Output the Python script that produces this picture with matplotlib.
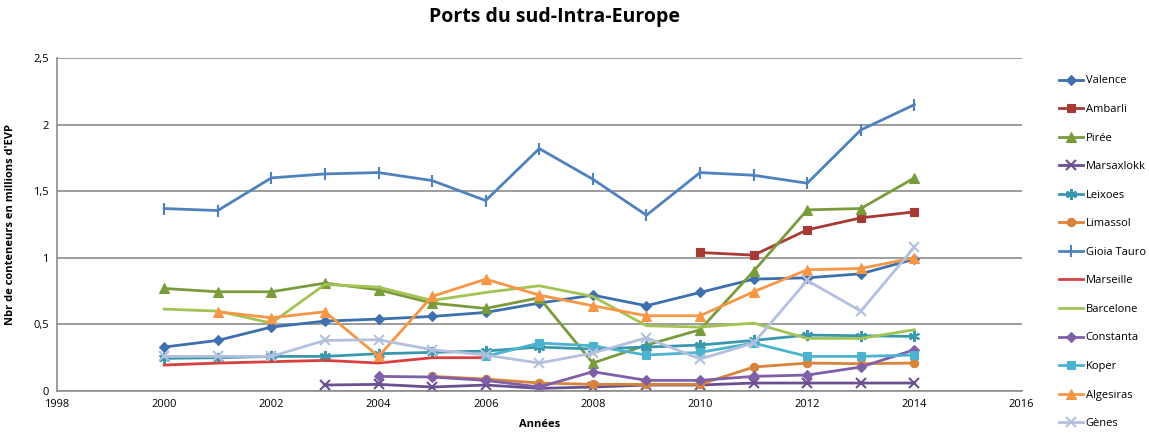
import numpy as np
import matplotlib.pyplot as plt
from matplotlib.ticker import FuncFormatter

# Ports du sud-Intra-Europe : trafic conteneurs (millions d'EVP)

years = list(range(2000, 2015))

valence = [0.33, 0.38, 0.48, 0.525, 0.54, 0.56, 0.59, 0.66, 0.72, 0.64, 0.74, 0.84, 0.85, 0.88, 0.99]
ambarli_years = [2010, 2011, 2012, 2013, 2014]
ambarli = [1.04, 1.02, 1.21, 1.30, 1.345]
piree = [0.77, 0.745, 0.745, 0.81, 0.76, 0.66, 0.62, 0.70, 0.21, 0.345, 0.46, 0.90, 1.36, 1.37, 1.60]
marsaxlokk_years = list(range(2003, 2015))
marsaxlokk = [0.045, 0.05, 0.03, 0.045, 0.02, 0.03, 0.045, 0.045, 0.06, 0.06, 0.06, 0.06]
leixoes = [0.245, 0.25, 0.26, 0.26, 0.28, 0.29, 0.30, 0.33, 0.315, 0.33, 0.345, 0.38, 0.42, 0.415, 0.41]
limassol_years = list(range(2005, 2015))
limassol = [0.11, 0.09, 0.06, 0.05, 0.05, 0.05, 0.18, 0.21, 0.205, 0.21]
gioia_tauro = [1.37, 1.355, 1.60, 1.63, 1.64, 1.58, 1.43, 1.82, 1.59, 1.32, 1.64, 1.62, 1.56, 1.96, 2.15]
marseille_years = list(range(2000, 2007))
marseille = [0.195, 0.21, 0.22, 0.23, 0.21, 0.25, 0.25]
barcelone = [0.615, 0.60, 0.51, 0.80, 0.78, 0.68, 0.74, 0.79, 0.71, 0.49, 0.48, 0.51, 0.395, 0.395, 0.46]
constanta_years = list(range(2004, 2015))
constanta = [0.11, 0.105, 0.08, 0.03, 0.145, 0.08, 0.08, 0.11, 0.12, 0.18, 0.31]
koper_years = list(range(2006, 2015))
koper = [0.26, 0.36, 0.34, 0.27, 0.29, 0.36, 0.26, 0.26, 0.27]
algesiras_years = list(range(2001, 2015))
algesiras = [0.595, 0.55, 0.595, 0.26, 0.71, 0.84, 0.72, 0.64, 0.565, 0.565, 0.745, 0.91, 0.92, 1.00]
genes = [0.26, 0.26, 0.26, 0.38, 0.385, 0.31, 0.27, 0.21, 0.285, 0.40, 0.24, 0.36, 0.83, 0.60, 1.08]

series = [
    ("Valence", years, valence, "#3E6FAE", "D", 5),
    ("Ambarli", ambarli_years, ambarli, "#A83A36", "s", 6),
    ("Pirée", years, piree, "#7A9B3C", "^", 7),
    ("Marsaxlokk", marsaxlokk_years, marsaxlokk, "#6A5090", "x", 7),
    ("Leixoes", years, leixoes, "#3A98AE", (6, 2, 0), 8),
    ("Limassol", limassol_years, limassol, "#D8843A", "o", 6),
    ("Gioia Tauro", years, gioia_tauro, "#4F81BD", "|", 9),
    ("Marseille", marseille_years, marseille, "#D84040", None, 0),
    ("Barcelone", years, barcelone, "#A3C454", None, 0),
    ("Constanta", constanta_years, constanta, "#7E5FA8", "D", 5),
    ("Koper", koper_years, koper, "#4BB3CF", "s", 6),
    ("Algesiras", algesiras_years, algesiras, "#F79646", "^", 7),
    ("Gènes", years, genes, "#B3C0DE", "x", 7),
]

plt.rcParams['font.family'] = ['Open Sans', 'DejaVu Sans']

fig = plt.figure(figsize=(11.49, 4.45), dpi=100)
ax = fig.add_axes([0.0496, 0.1213, 0.8395, 0.7483])

for name, xs, ys, col, mk, ms in series:
    ax.plot(xs, ys, color=col, marker=mk, markersize=ms, linewidth=2,
            markeredgewidth=1.5 if mk in ("x", "|", (6, 2, 0)) else 0.8,
            label=name)

ax.set_xlim(1998, 2016)
ax.set_ylim(0, 2.5)
ax.set_xticks(range(1998, 2017, 2))
ax.set_yticks(np.arange(0, 2.51, 0.5))
ax.yaxis.set_major_formatter(FuncFormatter(lambda v, p: ('%g' % v).replace('.', ',')))
ax.tick_params(labelsize=8, length=0, pad=6)
ax.grid(axis='y', color='#8c8c8c', linewidth=1.2)
ax.set_axisbelow(True)
for s in ['top', 'right']:
    ax.spines[s].set_visible(False)
for s in ['left', 'bottom']:
    ax.spines[s].set_color('#8c8c8c')
    ax.spines[s].set_linewidth(1.2)

ax.set_xlabel('Années', fontsize=8, fontweight='bold', labelpad=6)
ax.set_ylabel("Nbr de conteneurs en millions d'EVP", fontsize=8, fontweight='bold', labelpad=12)
fig.suptitle('Ports du sud-Intra-Europe', fontsize=14, fontweight='bold', x=0.483, y=0.985)

fig.legend(loc='upper left', bbox_to_anchor=(0.913, 0.853), frameon=False,
           fontsize=8, labelspacing=1.58, handlelength=2.2, handletextpad=0.2)

plt.savefig('out.png', dpi=100)
